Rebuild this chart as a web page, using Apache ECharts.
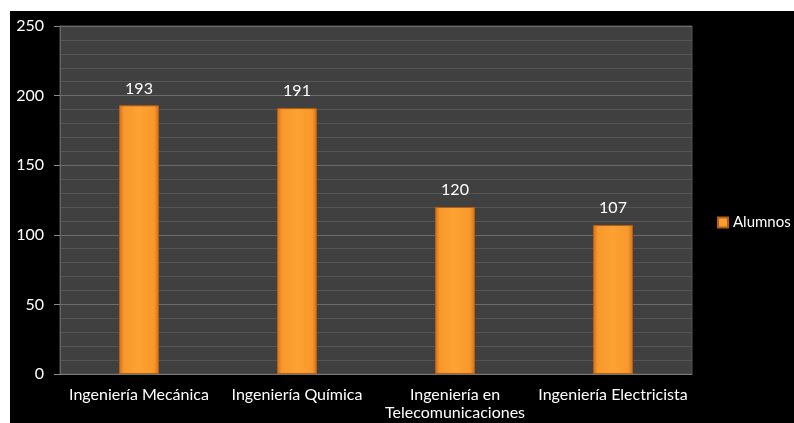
<!DOCTYPE html>
<html>
<head>
<meta charset="utf-8">
<script src="https://cdn.jsdelivr.net/npm/echarts@6/dist/echarts.min.js"></script>
<style>
  html, body { margin: 0; padding: 0; background: #fff; }
  #chart { position: absolute; left: 10px; top: 11px; width: 784px; height: 412px; background: #000; }
</style>
</head>
<body>
<div id="chart"></div>
<script>
const categories = ["Ingeniería Mecánica", "Ingeniería Química", "Ingeniería en Telecomunicaciones", "Ingeniería Electricista"];
const alumnos = [193, 191, 120, 107];
const seriesName = "Alumnos";
const yTicks = [0, 50, 100, 150, 200, 250];

const fontFamily = "Lato, 'Open Sans', sans-serif";

const barColor = new echarts.graphic.LinearGradient(0, 0, 1, 0, [
  { offset: 0, color: "#cf6e16" },
  { offset: 0.12, color: "#f8982c" },
  { offset: 0.5, color: "#fca232" },
  { offset: 0.88, color: "#f8982c" },
  { offset: 1, color: "#cf6e16" },
]);

const chart = echarts.init(document.getElementById("chart"), null, { renderer: "canvas" });

chart.setOption({
  animation: false,
  textStyle: { fontFamily: fontFamily },
  grid: {
    left: 50,
    top: 15,
    right: 102,
    bottom: 49,
    show: true,
    backgroundColor: "#404040",
    borderColor: "#555",
    borderWidth: 1,
  },
  legend: {
    data: [seriesName],
    orient: "vertical",
    left: 707,
    top: 204,
    icon: "rect",
    itemWidth: 10,
    itemHeight: 10,
    itemGap: 4,
    padding: 0,
    textStyle: { color: "#fff", fontSize: 15, fontFamily: fontFamily },
  },
  xAxis: {
    type: "category",
    data: categories,
    axisLine: { lineStyle: { color: "#7a7a7a", width: 1 } },
    axisTick: { show: false },
    axisLabel: {
      color: "#fff",
      fontSize: 16,
      margin: 12,
      interval: 0,
      lineHeight: 18,
      formatter: (value) => value.replace(" en ", " en\n"),
    },
  },
  yAxis: {
    type: "value",
    min: yTicks[0],
    max: yTicks[yTicks.length - 1],
    interval: 50,
    axisLine: { show: true, lineStyle: { color: "#666" } },
    axisTick: { show: true, length: 6, lineStyle: { color: "#888" } },
    axisLabel: { color: "#fff", fontSize: 16, margin: 16 },
    splitLine: { lineStyle: { color: "#6c6c6c", width: 1 } },
    minorTick: { show: false, splitNumber: 5 },
    minorSplitLine: { show: true, lineStyle: { color: "#555", width: 1 } },
  },
  series: [
    {
      name: seriesName,
      type: "bar",
      data: alumnos,
      barWidth: 40,
      itemStyle: {
        color: barColor,
        borderColor: "#b65e14",
        borderWidth: 1,
      },
      label: {
        show: true,
        position: "top",
        distance: 9,
        color: "#fff",
        fontSize: 16,
        fontFamily: fontFamily,
      },
    },
  ],
});
</script>
</body>
</html>
